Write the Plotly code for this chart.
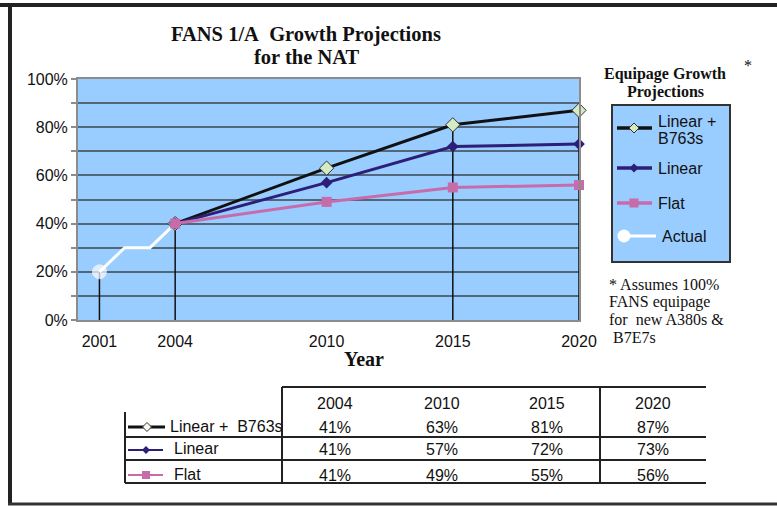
import plotly.graph_objects as go

# ---------------- data ----------------
years_proj = [2004, 2010, 2015, 2020]
linear_b763s = [40, 63, 81, 87]
linear = [40, 57, 72, 73]
flat = [40, 49, 55, 56]

years_actual = [2001, 2002, 2003, 2004]
actual = [20, 30, 30, 40]

x_ticks = [2001, 2004, 2010, 2015, 2020]
y_ticks = [0, 20, 40, 60, 80, 100]
y_minor = [10, 30, 50, 70, 90]
y_tick_labels = ["0%", "20%", "40%", "60%", "80%", "100%"]

table_years = ["2004", "2010", "2015", "2020"]
table_series = ["Linear +  B763s", "Linear", "Flat"]
table_linear_b763s = ["41%", "63%", "81%", "87%"]
table_linear = ["41%", "57%", "72%", "73%"]
table_flat = ["41%", "49%", "55%", "56%"]

legend_names = ["Linear +", "B763s", "Linear", "Flat", "Actual"]
title_lines = ["FANS 1/A\u00a0 Growth Projections", "for the NAT"]
legend_title = ["Equipage Growth", "Projections"]
footnote = ["* Assumes 100%", "FANS equipage", "for\u00a0 new A380s &", "\u00a0B7E7s"]

# drop lines built from the data
drop_x, drop_y = [], []
for yr, v in [(years_actual[0], actual[0]), (years_actual[-1], actual[-1]),
              (years_proj[2], linear_b763s[2]), (years_proj[3], linear_b763s[3])]:
    drop_x += [yr, yr, None]
    drop_y += [0, v, None]

# ---------------- styles ----------------
SANS = "Liberation Sans, Arial, sans-serif"
SERIF = "Liberation Serif, Times New Roman, serif"
C_B763 = "#111111"
C_B763_FILL = "#d5ebc2"
C_LIN = "#2c1f78"
C_FLAT = "#c66cab"
BLUE = "#99ccff"
GRID = "#53677b"
AXIS = "#8c8c8c"

W, H = 777, 506
L, R, T, B = 78, 579, 79, 320


def px(x):
    return (x - L) / (R - L)


def py(y):
    return (B - y) / (B - T)


fig = go.Figure()

fig.add_trace(go.Scatter(x=drop_x, y=drop_y, mode="lines",
                         line=dict(color="#111111", width=1.5),
                         hoverinfo="skip", showlegend=False, cliponaxis=False))
fig.add_trace(go.Scatter(x=years_actual, y=actual, mode="lines+markers", name="Actual",
                         line=dict(color="white", width=3),
                         marker=dict(color="white", size=[14] + [0] * (len(actual) - 1)),
                         showlegend=False, cliponaxis=False))
fig.add_trace(go.Scatter(x=years_proj, y=linear_b763s, mode="lines+markers", name="Linear + B763s",
                         line=dict(color=C_B763, width=3),
                         marker=dict(symbol="diamond", size=11, color=C_B763_FILL,
                                     line=dict(color="#333333", width=1)),
                         showlegend=False, cliponaxis=False))
fig.add_trace(go.Scatter(x=years_proj, y=linear, mode="lines+markers", name="Linear",
                         line=dict(color=C_LIN, width=3),
                         marker=dict(symbol="diamond", size=9, color=C_LIN),
                         showlegend=False, cliponaxis=False))
fig.add_trace(go.Scatter(x=years_proj, y=flat, mode="lines+markers", name="Flat",
                         line=dict(color=C_FLAT, width=3),
                         marker=dict(symbol="square", size=10, color=C_FLAT),
                         showlegend=False, cliponaxis=False))

shapes = []
annotations = []


def rect(x0, y0, x1, y1, fill, line_color=None, lw=0):
    shapes.append(dict(type="rect", xref="paper", yref="paper",
                       x0=px(x0), x1=px(x1), y0=py(y0), y1=py(y1),
                       fillcolor=fill, line=dict(color=line_color or fill, width=lw),
                       layer="above"))


def seg(x0, y0, x1, y1, color, width):
    shapes.append(dict(type="line", xref="paper", yref="paper",
                       x0=px(x0), x1=px(x1), y0=py(y0), y1=py(y1),
                       line=dict(color=color, width=width), layer="above"))


def diamond(cx, cy, r, fill, line_color, lw):
    path = (f"M {px(cx)},{py(cy - r)} L {px(cx + r)},{py(cy)} "
            f"L {px(cx)},{py(cy + r)} L {px(cx - r)},{py(cy)} Z")
    shapes.append(dict(type="path", xref="paper", yref="paper", path=path,
                       fillcolor=fill, line=dict(color=line_color, width=lw), layer="above"))


def circle(cx, cy, r, fill):
    shapes.append(dict(type="circle", xref="paper", yref="paper",
                       x0=px(cx - r), x1=px(cx + r), y0=py(cy + r), y1=py(cy - r),
                       fillcolor=fill, line=dict(color=fill, width=0), layer="above"))


def text(s, x, y, size, family, bold=False, xanchor="center", color="#111111"):
    annotations.append(dict(text=f"<b>{s}</b>" if bold else s, x=px(x), y=py(y),
                            xref="paper", yref="paper", xanchor=xanchor, yanchor="middle",
                            showarrow=False, font=dict(size=size, family=family, color=color)))


# outer frame
rect(0, 3, W, 7, "#222222")
rect(8, 3, 12, 505, "#222222")
rect(8, 502.5, W, 505.5, "#333333")

# titles
text(title_lines[0], 306, 35, 20.5, SERIF, bold=True)
text(title_lines[1], 306, 57, 20.5, SERIF, bold=True)
text("Year", 364, 359, 20, SERIF, bold=True)

# legend
text(legend_title[0], 665, 74, 16, SERIF, bold=True)
text(legend_title[1], 665, 92, 16, SERIF, bold=True)
text("*", 748, 65, 16, SERIF)
rect(612, 105, 730, 262, BLUE, "#333333", 2)
seg(617, 128, 652, 128, C_B763, 3.5)
diamond(634, 128, 5, C_B763_FILL, "#333333", 1)
text(legend_names[0], 656, 121.5, 16, SANS, xanchor="left")
text(legend_names[1], 656, 138.5, 16, SANS, xanchor="left")
seg(617, 168, 652, 168, C_LIN, 3.5)
diamond(634, 168, 4.5, C_LIN, C_LIN, 0)
text(legend_names[2], 656, 168, 16, SANS, xanchor="left")
seg(617, 203, 652, 203, C_FLAT, 3.5)
rect(629.5, 198.5, 638.5, 207.5, C_FLAT)
text(legend_names[3], 656, 203, 16, SANS, xanchor="left")
seg(623, 236, 656, 236, "white", 3)
circle(624, 236, 6.5, "white")
text(legend_names[4], 660, 236, 16, SANS, xanchor="left")

# footnote
for i, line in enumerate(footnote):
    text(line, 607, 284 + i * 17.7, 16, SERIF, xanchor="left")

# table
TC = "#222222"
seg(282, 387, 706, 387, TC, 2)
seg(125, 437, 706, 437, TC, 2)
seg(125, 460, 706, 460, TC, 2)
seg(125, 483, 706, 483, TC, 2)
seg(125, 412, 125, 483, TC, 2)
seg(282, 387, 282, 483, TC, 2)
seg(600, 387, 600, 483, TC, 2)

col_x = [335, 442, 547, 653]
row_y = [427, 450, 475]
for cx, yr in zip(col_x, table_years):
    text(yr, cx, 403, 16, SANS)
for ry, vals in zip(row_y, [table_linear_b763s, table_linear, table_flat]):
    for cx, v in zip(col_x, vals):
        text(v, cx, ry, 16, SANS)

seg(128, 427, 165, 427, C_B763, 3)
diamond(147, 427, 4.5, "#f4faef", "#333333", 1)
text(table_series[0], 168, 426, 16, SANS, xanchor="left")
seg(128, 450, 163, 450, C_LIN, 2)
diamond(146, 450, 4, C_LIN, C_LIN, 0)
text(table_series[1], 172, 449, 16, SANS, xanchor="left")
seg(128, 475, 163, 475, C_FLAT, 2)
rect(142, 471, 150, 479, C_FLAT)
text(table_series[2], 172, 474, 16, SANS, xanchor="left")

fig.update_layout(
    width=W, height=H, autosize=False,
    margin=dict(l=L, r=W - R, t=T, b=H - B, pad=0),
    paper_bgcolor="white", plot_bgcolor=BLUE,
    shapes=shapes, annotations=annotations,
    showlegend=False,
    xaxis=dict(range=[2000.15, 2020], tickvals=x_ticks, ticktext=[str(v) for v in x_ticks],
               showgrid=False, zeroline=False, showline=True, linecolor=AXIS, linewidth=2,
               mirror=True, ticks="", ticklabelstandoff=6,
               tickfont=dict(size=16, family=SANS, color="#111111")),
    yaxis=dict(range=[0, 100], tickvals=y_ticks, ticktext=y_tick_labels,
               showgrid=True, gridcolor=GRID, gridwidth=1.5, zeroline=False,
               showline=True, linecolor=AXIS, linewidth=2, mirror=True,
               ticks="outside", ticklen=5, tickcolor=AXIS, tickwidth=1.5,
               minor=dict(tickvals=y_minor, showgrid=True, gridcolor=GRID, gridwidth=1.5,
                          ticks="outside", ticklen=5, tickcolor=AXIS, tickwidth=1.5),
               tickfont=dict(size=16, family=SANS, color="#111111")),
)

fig.write_html("out.html", config={"displayModeBar": False},
               post_script="document.body.style.margin='0';document.body.style.padding='0';")
